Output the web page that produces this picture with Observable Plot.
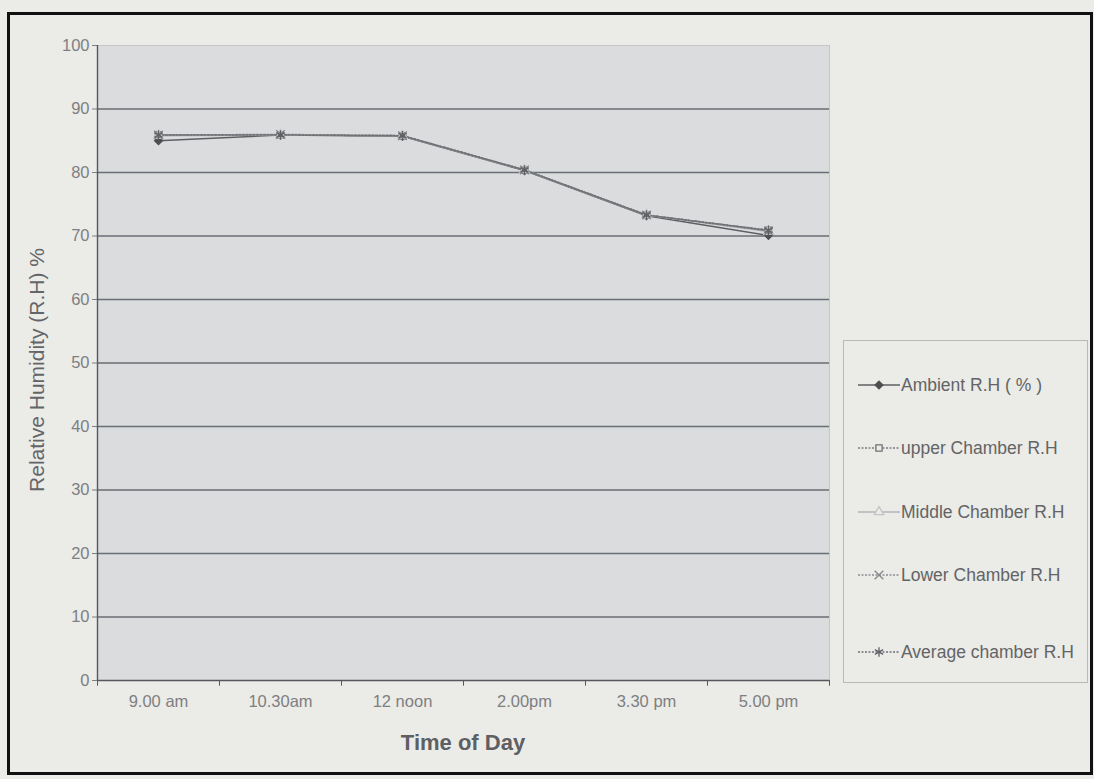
<!DOCTYPE html>
<html>
<head>
<meta charset="utf-8">
<script src="https://cdn.jsdelivr.net/npm/d3@7"></script>
<script src="https://cdn.jsdelivr.net/npm/@observablehq/plot@0.6"></script>
<style>
  html, body { margin: 0; padding: 0; background: #ebebe7; }
  #wrap { position: relative; width: 1094px; height: 779px; overflow: hidden; font-family: "Liberation Sans", Arial, sans-serif; }
  #frame { position: absolute; left: 7px; top: 12px; width: 1080px; height: 757px; border: 3px solid #111; }
  #chart { position: absolute; left: 0; top: 0; }
  #legend { position: absolute; left: 843px; top: 340px; width: 245px; height: 343px; border: 1px solid #b9bab8; box-sizing: border-box; }
  .lg { position: absolute; left: 14px; height: 22px; display: flex; align-items: center; font-size: 17.5px; color: #636466; white-space: nowrap; }
  .lg svg { margin-right: 1px; }
  .ytitle { position: absolute; left: 37px; top: 370px; transform: translate(-50%, -50%) rotate(-90deg); font-size: 21px; color: #646568; white-space: nowrap; }
  .xtitle { position: absolute; left: 463px; top: 743px; transform: translate(-50%, -50%); font-size: 22px; font-weight: bold; color: #5e5f62; white-space: nowrap; }
  #chart svg text { font-size: 16.5px; }
</style>
</head>
<body>
<div id="wrap">
  <div id="frame"></div>
  <div id="chart"></div>
  <div class="ytitle">Relative Humidity (R.H) %</div>
  <div class="xtitle">Time of Day</div>
  <div id="legend"></div>
</div>
<script>
// ---- data ----
const times = ["9.00 am", "10.30am", "12 noon", "2.00pm", "3.30 pm", "5.00 pm"];
const ambient = [85.0, 85.9, 85.7, 80.3, 73.2, 70.1];
const upper   = [85.9, 85.9, 85.8, 80.4, 73.3, 70.9];
const middle  = [85.8, 85.9, 85.8, 80.4, 73.3, 70.7];
const lower   = [85.9, 86.0, 85.8, 80.4, 73.3, 70.8];
const average = [85.9, 85.9, 85.8, 80.4, 73.3, 70.9];
const seriesNames = ["Ambient R.H ( % )", "upper Chamber R.H", "Middle Chamber R.H", "Lower Chamber R.H", "Average chamber R.H"];
const yTicks = [0, 10, 20, 30, 40, 50, 60, 70, 80, 90, 100];
const gridValues = [10, 20, 30, 40, 50, 60, 70, 80, 90];

// ---- styles ----
const seriesValues = [ambient, upper, middle, lower, average];
const styles = [
  {symbol: "diamond2", stroke: "#5d5f62", mstroke: "#4d4f52", fill: "#4d4f52", dash: null, r: 3.5},
  {symbol: "square",   stroke: "#7c7e82", mstroke: "#6e7074", fill: "none", dash: "2,1.5", r: 3.5},
  {symbol: "triangle", stroke: "#b3b5b7", mstroke: "#c3c5c7", fill: "none", dash: null, r: 3.5},
  {symbol: "times",    stroke: "#8a8c90", mstroke: "#85878a", fill: "none", dash: "2,1.5", r: 4},
  {symbol: "asterisk", stroke: "#6e7074", mstroke: "#5f6165", fill: "none", dash: "2,1.5", r: 4.5}
];

const rows = seriesNames.map((name, s) => times.map((t, i) => ({series: name, time: t, value: seriesValues[s][i]})));

const W = 1094, H = 779;
const mL = 97, mR = 265, mT = 45, mB = 99;
const half = (W - mL - mR) / times.length / 2;

const marks = [
  Plot.frame({fill: "#dadcde", stroke: "#c4c6c8"}),
  Plot.ruleY(gridValues, {stroke: "#6a6f75", strokeWidth: 1.3}),
  Plot.ruleY([0], {stroke: "#55585c", strokeWidth: 1.4}),
  Plot.ruleX([times[0]], {y1: 0, y2: 100, dx: -half, stroke: "#55585c", strokeWidth: 1.4}),
  Plot.ruleX(times, {y1: 0, y2: -0.9, dx: -half, stroke: "#55585c"}),
  Plot.ruleX([times[times.length - 1]], {y1: 0, y2: -0.9, dx: half, stroke: "#55585c"})
];
rows.forEach((data, s) => {
  const st = styles[s];
  marks.push(Plot.line(data, {x: "time", y: "value", stroke: st.stroke, strokeWidth: 1.5, strokeDasharray: st.dash}));
});
rows.forEach((data, s) => {
  const st = styles[s];
  marks.push(Plot.dot(data, {x: "time", y: "value", symbol: () => st.symbol, r: st.r, stroke: st.mstroke, fill: st.fill, strokeWidth: 1.3}));
});

const chart = Plot.plot({
  width: W, height: H,
  marginLeft: mL, marginRight: mR, marginTop: mT, marginBottom: mB,
  style: {background: "transparent", fontFamily: "Liberation Sans, Arial, sans-serif", fontSize: "16.5px", color: "#7e7f82"},
  x: {type: "point", domain: times, padding: 0.5, label: null, tickSize: 0, tickPadding: 15},
  y: {domain: [0, 100], ticks: yTicks, label: null, tickSize: 5, tickPadding: 3},
  symbol: {type: "identity"},
  marks
});
document.getElementById("chart").appendChild(chart);

// ---- legend ----
const legendTops = [33, 96, 160, 223, 300];
const legend = d3.select("#legend");
seriesNames.forEach((name, s) => {
  const st = styles[s];
  const item = legend.append("div").attr("class", "lg").style("top", legendTops[s] + "px");
  const svg = item.append("svg").attr("width", 42).attr("height", 14);
  svg.append("line").attr("x1", 0).attr("x2", 42).attr("y1", 7).attr("y2", 7)
    .attr("stroke", st.stroke).attr("stroke-width", 1.5).attr("stroke-dasharray", st.dash);
  const sym = {diamond2: d3.symbolDiamond2, square: d3.symbolSquare, triangle: d3.symbolTriangle, times: d3.symbolTimes, asterisk: d3.symbolAsterisk}[st.symbol];
  svg.append("path").attr("transform", "translate(21,7)")
    .attr("d", d3.symbol(sym, Math.PI * st.r * st.r)())
    .attr("stroke", st.mstroke).attr("fill", st.fill === "none" ? "#ebebe7" : st.fill).attr("stroke-width", 1.3);
  item.append("span").text(name);
});
</script>
</body>
</html>
